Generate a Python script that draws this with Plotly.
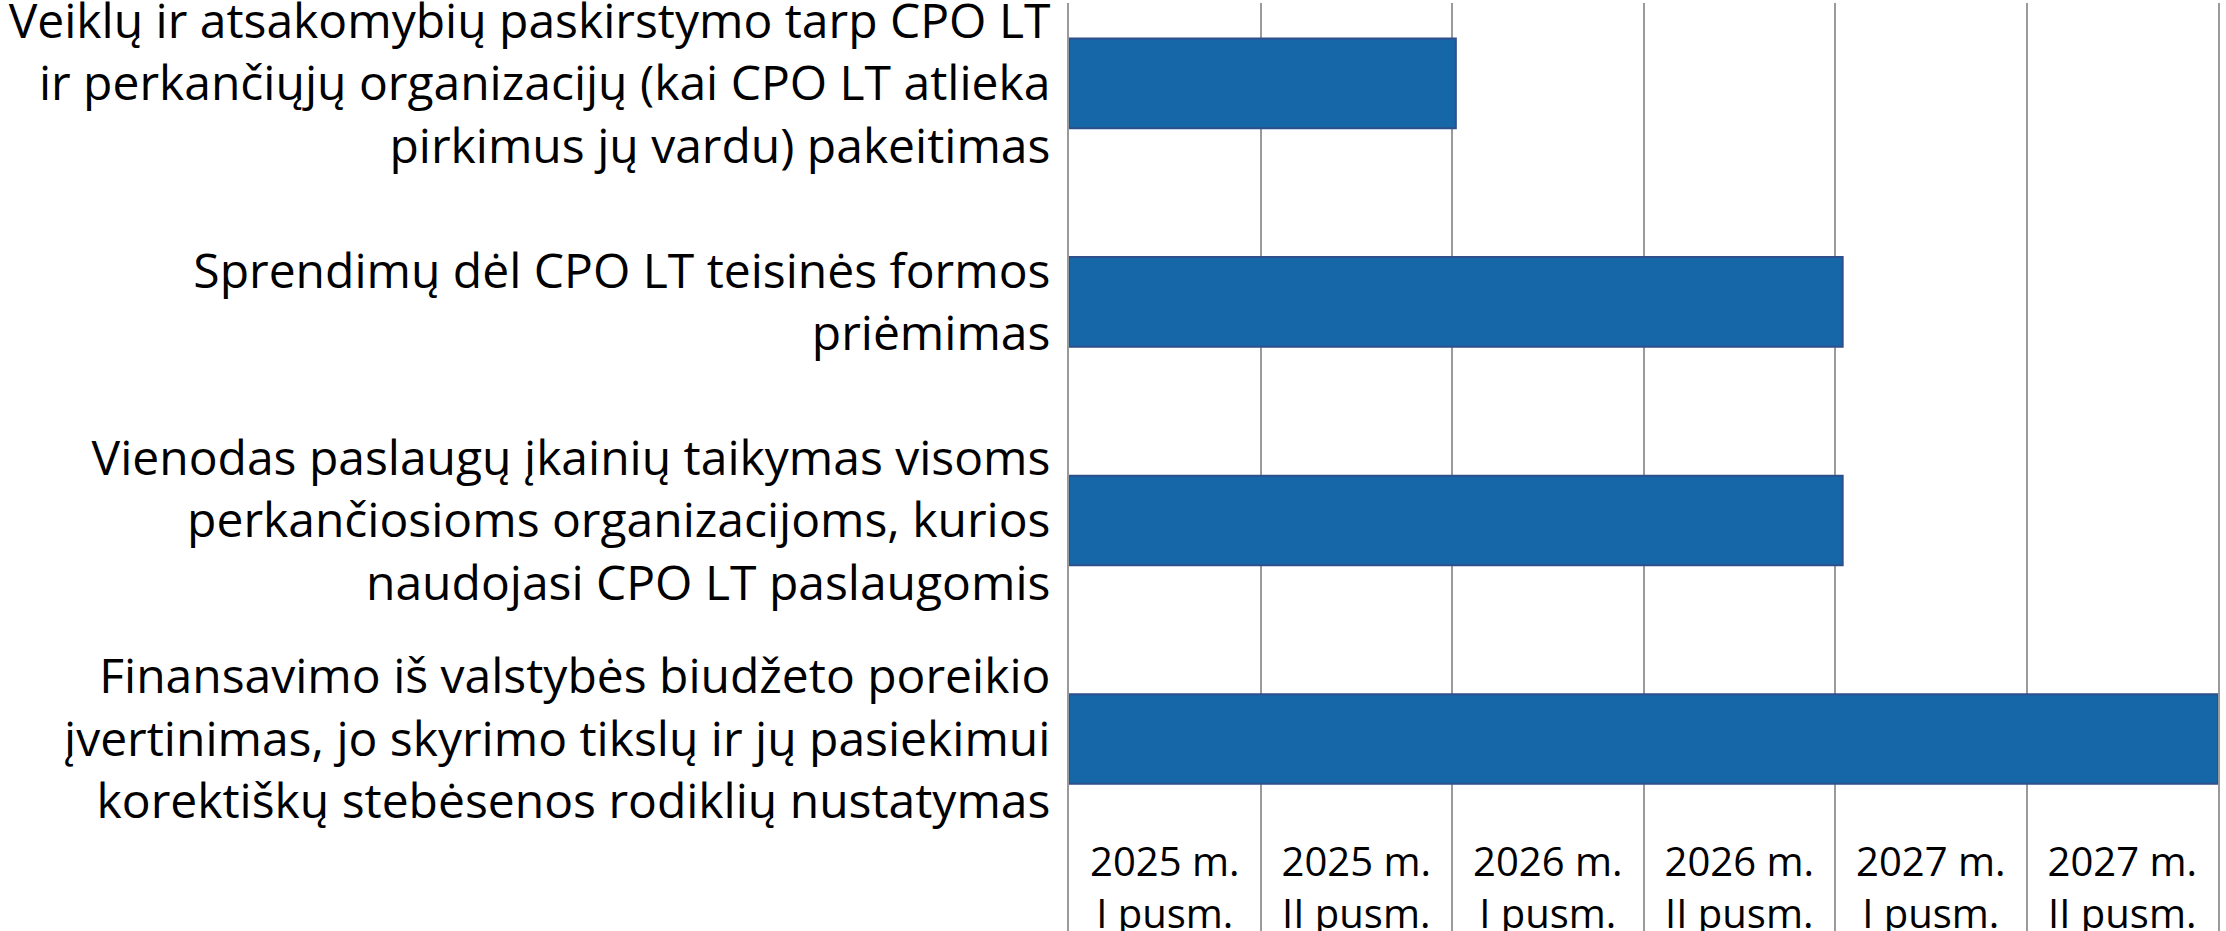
import plotly.graph_objects as go

categories = [
    "Veiklų ir atsakomybių paskirstymo tarp CPO LT<br>ir perkančiųjų organizacijų (kai CPO LT atlieka<br>pirkimus jų vardu) pakeitimas",
    "Sprendimų dėl CPO LT teisinės formos<br>priėmimas",
    "Vienodas paslaugų įkainių taikymas visoms<br>perkančiosioms organizacijoms, kurios<br>naudojasi CPO LT paslaugomis",
    "Finansavimo iš valstybės biudžeto poreikio<br>įvertinimas, jo skyrimo tikslų ir jų pasiekimui<br>korektiškų stebėsenos rodiklių nustatymas",
]
durations = [2.02, 4.04, 4.04, 6.0]  # in half-year periods from 2025 m. I pusm.
period_labels = [
    "2025 m.<br>I pusm.", "2025 m.<br>II pusm.",
    "2026 m.<br>I pusm.", "2026 m.<br>II pusm.",
    "2027 m.<br>I pusm.", "2027 m.<br>II pusm.",
]

n_periods = len(period_labels)
centers = [i + 0.5 for i in range(n_periods)]
bounds = list(range(1, n_periods))

fig = go.Figure()
fig.add_trace(go.Bar(
    x=durations,
    y=categories,
    base=0,
    orientation="h",
    width=0.41,
    marker=dict(color="#1667a8", line=dict(color="#2f4f8c", width=2)),
    hoverinfo="skip",
))

fig.update_layout(
    width=2226,
    height=931,
    margin=dict(l=1069, r=8, t=3, b=0, autoexpand=False),
    plot_bgcolor="white",
    paper_bgcolor="white",
    showlegend=False,
    font=dict(family="Open Sans", color="black"),
    xaxis=dict(
        range=[0, n_periods],
        tickmode="array",
        tickvals=centers,
        ticktext=period_labels,
        ticks="",
        showgrid=False,
        zeroline=False,
        automargin=False,
        ticklabelposition="inside",
        ticklabelstandoff=-8,
        tickfont=dict(family="Open Sans", size=40, color="black"),
        minor=dict(tickmode="array", tickvals=bounds, showgrid=True,
                   gridcolor="#9a9a9a", gridwidth=2, ticks=""),
    ),
    yaxis=dict(
        type="category",
        categoryorder="array",
        categoryarray=categories,
        range=[3.879, -0.368],
        ticks="",
        showgrid=False,
        zeroline=False,
        automargin=False,
        showline=True,
        mirror=True,
        linecolor="#9a9a9a",
        linewidth=2,
        ticklabelstandoff=7,
        tickfont=dict(family="Open Sans", size=48, color="black"),
    ),
)

fig.write_html(
    "out.html",
    config={"displayModeBar": False},
    post_script="document.body.style.margin='0';document.body.style.overflow='hidden';",
)
